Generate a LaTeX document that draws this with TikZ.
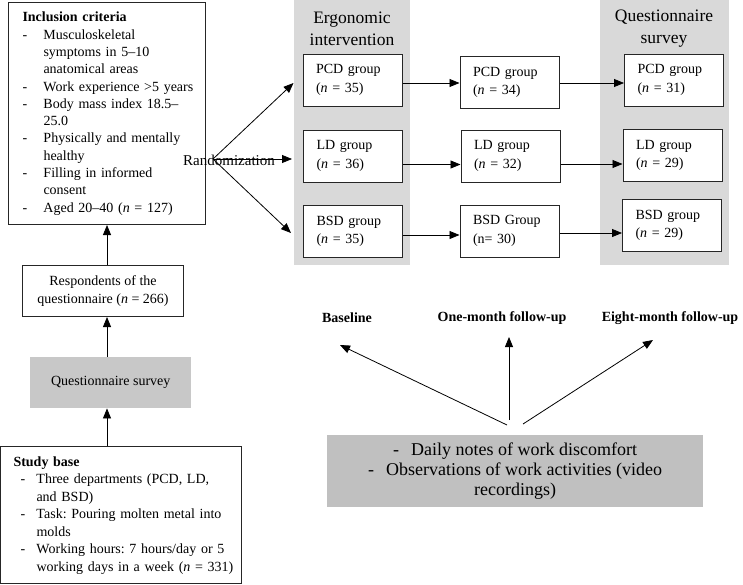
\documentclass[tikz,border=0pt]{standalone}
\usepackage{fontspec}
\setmainfont{Liberation Serif}
\usetikzlibrary{arrows.meta}
\frenchspacing
\definecolor{colgray}{RGB}{217,217,217}
\definecolor{qsgray}{RGB}{200,200,200}
\definecolor{obsgray}{RGB}{192,192,192}
\tikzset{
  arr/.style={-{Triangle[length=10pt,width=8pt]}, line width=0.8pt},
  box/.style={draw=black!85, line width=1pt, inner sep=0pt},
  grp/.style={box, fill=white, minimum width=99pt, minimum height=52pt,
    text width=73pt, align=left, font=\fontsize{14}{18.5}\selectfont},
  colbox/.style={fill=colgray, inner sep=0pt},
  head/.style={align=center, font=\fontsize{17.5}{22}\selectfont},
  stage/.style={font=\fontsize{14}{16}\selectfont\bfseries},
}
\begin{document}
\begin{tikzpicture}[x=1pt,y=-1pt]
\useasboundingbox (0,0) rectangle (743,584);
% grey columns
\node[colbox, minimum width=116pt, minimum height=265pt, anchor=north west] (colA) at (294,0) {};
\node[colbox, minimum width=129pt, minimum height=265pt, anchor=north west] (colC) at (600,0) {};
\node[head] (headA) at (352,29) {Ergonomic\\intervention};
\node[head] (headC) at (664,29) {Questionnaire\\survey};

\node[box, anchor=north west, minimum width=197pt, minimum height=222pt, inner xsep=14pt,
  text width=169pt, align=left, font=\fontsize{14}{17.3}\selectfont] (incl) at (8,2) {%
\begin{tabular}{@{}p{21pt}@{}l@{}}
\multicolumn{2}{@{}l@{}}{\textbf{Inclusion criteria}}\\
- & Musculoskeletal\\
  & symptoms in 5--10\\
  & anatomical areas\\
- & Work experience >5 years\\
- & Body mass index 18.5--\\
  & 25.0\\
- & Physically and mentally\\
  & healthy\\
- & Filling in informed\\
  & consent\\
- & Aged 20--40 (\textit{n} = 127)
\end{tabular}};
\node[box, anchor=north west, minimum width=161pt, minimum height=51pt, align=center,
  font=\fontsize{14}{18}\selectfont] (resp) at (22,265) {Respondents of the\\questionnaire (\textit{n} = 266)};
\node[fill=qsgray, inner sep=0pt, anchor=north west, minimum width=161pt, minimum height=51pt,
  font=\fontsize{14}{18}\selectfont] (qs) at (30,357) {Questionnaire survey};
\node[box, anchor=north west, minimum width=241pt, minimum height=137pt, inner xsep=13pt,
  text width=215pt, align=left, font=\fontsize{14}{17.5}\selectfont] (study) at (0,446) {%
\begin{tabular}{@{\hspace{7pt}}p{16pt}@{}l@{}}
\multicolumn{2}{@{}l@{}}{\textbf{Study base}}\\
- & Three departments (PCD, LD,\\
  & and BSD)\\
- & Task: Pouring molten metal into\\
  & molds\\
- & Working hours: 7 hours/day or 5\\
  & working days in a week (\textit{n} = 331)
\end{tabular}};

\node[grp] (pcdA) at (352.5,80) {PCD group\\(\textit{n} = 35)};
\node[grp] (ldA) at (353,156) {LD group\\(\textit{n} = 36)};
\node[grp] (bsdA) at (353,231.5) {BSD group\\(\textit{n} = 35)};
\node[grp] (pcdB) at (509.5,82.5) {PCD group\\(\textit{n} = 34)};
\node[grp] (ldB) at (510.5,156) {LD group\\(\textit{n} = 32)};
\node[grp] (bsdB) at (509.5,231) {BSD Group\\(n= 30)};
\node[grp] (pcdC) at (674,80) {PCD group\\(\textit{n} = 31)};
\node[grp] (ldC) at (672.5,155.5) {LD group\\(\textit{n} = 29)};
\node[grp] (bsdC) at (672,225.5) {BSD group\\(\textit{n} = 29)};

\node[anchor=base west, inner sep=0pt, font=\fontsize{15}{18}\selectfont] (rtext) at (183,165) {Randomization};
\coordinate (rand) at (213,159);

\node[stage] (base) at (347,318) {Baseline};
\node[stage] (onem) at (502,318) {One-month follow-up};
\node[stage] (eightm) at (670,318) {Eight-month follow-up};
\node[fill=obsgray, inner sep=0pt, anchor=north west, minimum width=376pt, minimum height=72pt,
  align=center, font=\fontsize{18}{20}\selectfont] (obs) at (327,435)
  {-\hspace{12pt}Daily notes of work discomfort\\-\hspace{12pt}Observations of work activities (video\\recordings)};
\coordinate (s1) at (507,425);
\coordinate (t1) at (340,345);
\coordinate (s2) at (509,420);
\coordinate (t2) at (509,337);
\coordinate (s3) at (523,424);
\coordinate (t3) at (653,340);

\draw[arr] (study.north -| incl.south) -- (qs.south -| incl.south);
\draw[arr] (qs.north -| incl.south) -- (resp.south -| incl.south);
\draw[arr] (resp.north -| incl.south) -- (incl.south);
\draw[arr] (rand) -- ([xshift=-9pt,yshift=-3pt]pcdA.west);
\draw[arr] (rand) -- ([xshift=-11pt,yshift=-3pt]ldA.west);
\draw[arr] (rand) -- ([xshift=-12pt,yshift=-1.5pt]bsdA.west);
\draw[arr] ([yshift=-3pt]pcdA.east) -- ([yshift=-3pt]pcdA.east -| pcdB.west);
\draw[arr] ([yshift=-0.5pt]pcdB.east) -- ([yshift=-0.5pt]pcdB.east -| pcdC.west);
\draw[arr] ([yshift=-8.5pt]ldA.east) -- ([yshift=-8.5pt]ldA.east -| ldB.west);
\draw[arr] ([yshift=-8pt]ldB.east) -- ([yshift=-8pt]ldB.east -| ldC.west);
\draw[arr] ([yshift=-3.5pt]bsdA.east) -- ([yshift=-3.5pt]bsdA.east -| bsdB.west);
\draw[arr] ([yshift=-2pt]bsdB.east) -- ([yshift=-2pt]bsdB.east -| bsdC.west);
\draw[arr] (s1) -- (t1);
\draw[arr] (s2) -- (t2);
\draw[arr] (s3) -- (t3);
\end{tikzpicture}
\end{document}
